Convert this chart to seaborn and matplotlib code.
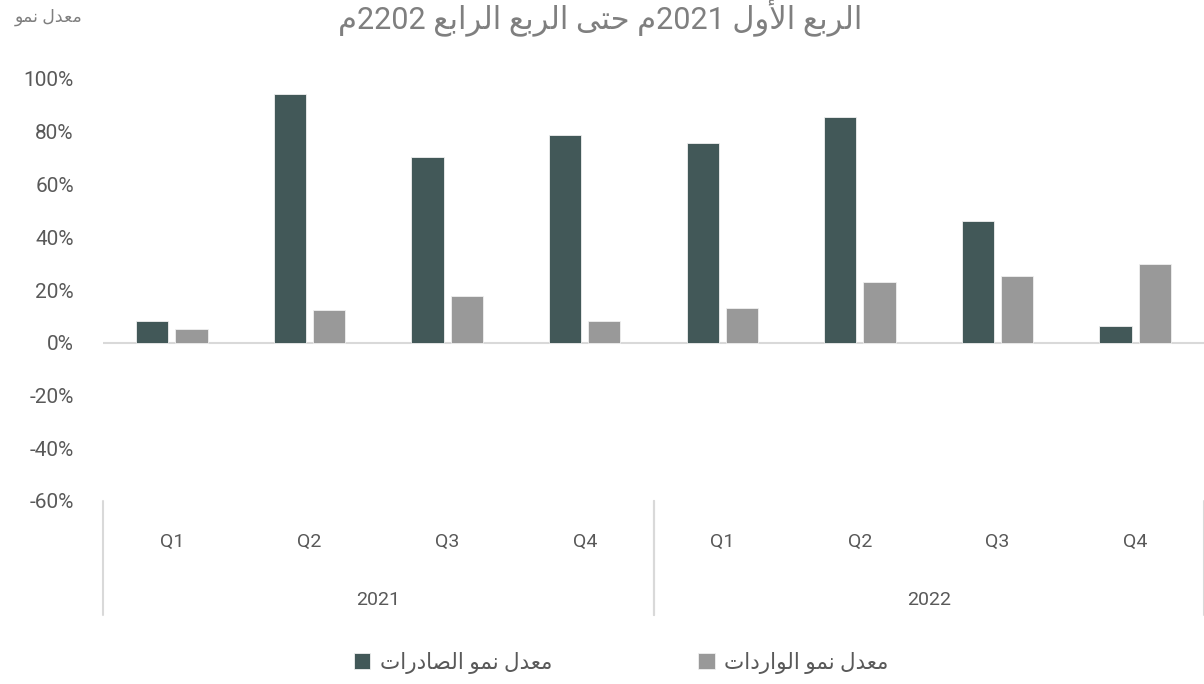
import matplotlib
matplotlib.use("Agg")
import matplotlib.pyplot as plt
import matplotlib.transforms as mtransforms
from matplotlib.lines import Line2D
import seaborn as sns
import pandas as pd

# ---------------- data ----------------
years = ["2021", "2021", "2021", "2021", "2022", "2022", "2022", "2022"]
quarters = ["Q1", "Q2", "Q3", "Q4", "Q1", "Q2", "Q3", "Q4"]
exports_growth = [8.3, 94.2, 70.5, 78.8, 75.9, 85.6, 46.0, 6.2]
imports_growth = [5.4, 12.6, 17.8, 8.3, 13.1, 23.2, 25.3, 30.0]
series_exports = "معدل نمو الصادرات"
series_imports = "معدل نمو الواردات"
title_text = "الربع الأول 2021م حتى الربع الرابع 2202م"
yaxis_note = "معدل نمو"
yticks = [-60, -40, -20, 0, 20, 40, 60, 80, 100]

# ---------------- minimal Arabic shaping + RTL ordering ----------------
FORMS = {  # iso, fin, ini, med
    "\u0627": ("\uFE8D", "\uFE8E", None, None),
    "\u0623": ("\uFE83", "\uFE84", None, None),
    "\u0644": ("\uFEDD", "\uFEDE", "\uFEDF", "\uFEE0"),
    "\u0631": ("\uFEAD", "\uFEAE", None, None),
    "\u0628": ("\uFE8F", "\uFE90", "\uFE91", "\uFE92"),
    "\u0639": ("\uFEC9", "\uFECA", "\uFECB", "\uFECC"),
    "\u0648": ("\uFEED", "\uFEEE", None, None),
    "\u062D": ("\uFEA1", "\uFEA2", "\uFEA3", "\uFEA4"),
    "\u062A": ("\uFE95", "\uFE96", "\uFE97", "\uFE98"),
    "\u0649": ("\uFEEF", "\uFEF0", "\uFBE8", "\uFBE9"),
    "\u0645": ("\uFEE1", "\uFEE2", "\uFEE3", "\uFEE4"),
    "\u062F": ("\uFEA9", "\uFEAA", None, None),
    "\u0646": ("\uFEE5", "\uFEE6", "\uFEE7", "\uFEE8"),
    "\u0635": ("\uFEB9", "\uFEBA", "\uFEBB", "\uFEBC"),
    "LA": ("\uFEFB", "\uFEFC", None, None),
    "LAH": ("\uFEF7", "\uFEF8", None, None),
}


def is_ar(c):
    return "\u0600" <= c <= "\u06FF"


def shape_run(run):
    units = []
    i = 0
    while i < len(run):
        c = run[i]
        if c == "\u0644" and i + 1 < len(run) and run[i + 1] in ("\u0627", "\u0623"):
            units.append("LA" if run[i + 1] == "\u0627" else "LAH")
            i += 2
        else:
            units.append(c)
            i += 1
    out = []
    for k, u in enumerate(units):
        f = FORMS.get(u)
        if f is None:
            out.append(u)
            continue
        prev = units[k - 1] if k > 0 else None
        nxt = units[k + 1] if k + 1 < len(units) else None
        jp = prev is not None and prev in FORMS and FORMS[prev][2] is not None
        jn = nxt is not None and nxt in FORMS and f[2] is not None
        if jp and jn:
            out.append(f[3])
        elif jp:
            out.append(f[1])
        elif jn:
            out.append(f[2])
        else:
            out.append(f[0])
    return "".join(reversed(out))


def rtl(text):
    tokens = text.split(" ")
    vis_tokens = []
    for tok in tokens:
        runs = []
        cur = ""
        cur_ar = None
        for ch in tok:
            a = is_ar(ch)
            if cur and a != cur_ar:
                runs.append((cur, cur_ar))
                cur = ""
            cur += ch
            cur_ar = a
        if cur:
            runs.append((cur, cur_ar))
        vis = [shape_run(r) if a else r for r, a in runs]
        vis_tokens.append("".join(reversed(vis)))
    return " ".join(reversed(vis_tokens))


# ---------------- frame ----------------
periods = [f"{q} {y}" for q, y in zip(quarters, years)]
lab_exp = rtl(series_exports)
lab_imp = rtl(series_imports)
df = pd.DataFrame({
    "period": periods * 2,
    "series": [lab_exp] * len(periods) + [lab_imp] * len(periods),
    "value": exports_growth + imports_growth,
})

sns.set_theme(style="white")
plt.rcParams["font.family"] = ["Roboto", "DejaVu Sans"]

W, H = 1204, 684
fig = plt.figure(figsize=(W / 100, H / 100), dpi=100)
ax = fig.add_axes([103 / W, (H - 501) / H, (W - 103) / W, (501 - 79) / H])

sns.barplot(data=df, x="period", y="value", hue="series", order=periods,
            hue_order=[lab_exp, lab_imp],
            palette=["#3e5c5c", "#999999"], width=0.57, gap=0.18,
            edgecolor="#f0f0f0", linewidth=0.6, ax=ax, zorder=3)

ax.set_xlim(-0.5, len(periods) - 0.5)
ax.set_ylim(-60, 100)
ax.set_yticks(yticks)
ax.set_yticklabels([f"{t}%" for t in yticks], color="#595959", fontsize=15)
ax.set_xticks(range(len(periods)))
ax.set_xticklabels(quarters, color="#595959", fontsize=14)
ax.tick_params(axis="x", length=0, pad=23)
ax.tick_params(axis="y", length=0, pad=21)
ax.set_xlabel("")
ax.set_ylabel("")
for s in ax.spines.values():
    s.set_visible(False)
ax.axhline(0, color="#d9d9d9", lw=1.5, zorder=2)

# year group labels and separators
trans = mtransforms.blended_transform_factory(ax.transData, ax.transAxes)
sep_bottom = -(615 - 501) / (501 - 79)
uniq_years = []
for y in years:
    if y not in uniq_years:
        uniq_years.append(y)
for yr in uniq_years:
    idx = [i for i, v in enumerate(years) if v == yr]
    ax.text((idx[0] + idx[-1]) / 2, -(600 - 501) / (501 - 79), yr, transform=trans,
            ha="center", va="center", fontsize=14, color="#595959")
    for xv in (idx[0] - 0.5, idx[-1] + 0.5):
        ax.add_line(Line2D([xv, xv], [0, sep_bottom], transform=trans,
                           color="#d9d9d9", lw=1.5, clip_on=False))

# title and note
fig.text(600 / W, 1 - 17 / H, rtl(title_text), ha="center", va="center",
         fontsize=22, color="#7f7f7f")
fig.text(49 / W, 1 - 17 / H, rtl(yaxis_note), ha="center", va="center",
         fontsize=12.5, color="#7f7f7f")

sns.move_legend(ax, "center", bbox_to_anchor=(0.516, 0.031),
                bbox_transform=fig.transFigure, ncol=2, frameon=False,
                title=None, fontsize=15.5, handlelength=0.75, handleheight=0.75,
                handletextpad=0.45, columnspacing=6.8)
for t in ax.get_legend().get_texts():
    t.set_color("#595959")

fig.savefig("out.png", dpi=100)
